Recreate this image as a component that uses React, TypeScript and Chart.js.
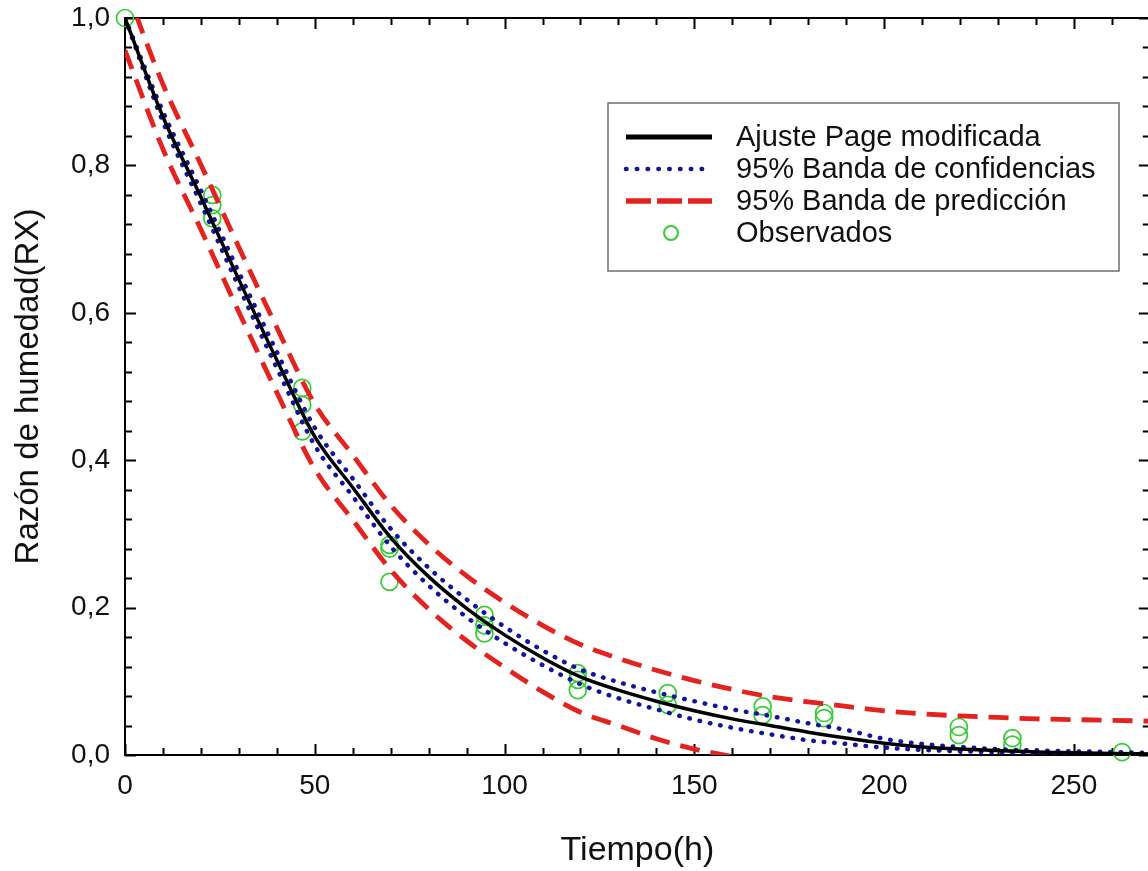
import React, { useEffect, useRef } from "react";
import { Chart, registerables } from "chart.js";

Chart.register(...registerables);

// ---------------- data ----------------
const timeGrid = [0, 10, 20, 30, 40, 50, 60, 70, 80, 90, 100, 110, 120, 130, 140, 150, 160, 170, 180, 190, 200, 210, 220, 230, 240, 250, 260, 270];

const fitValues = [1.0, 0.866, 0.757, 0.645, 0.536, 0.432, 0.363, 0.295, 0.242, 0.199, 0.163, 0.132, 0.106, 0.088, 0.073, 0.06, 0.049, 0.04, 0.031, 0.023, 0.016, 0.011, 0.008, 0.006, 0.004, 0.003, 0.002, 0.0015];

const confUpper = [1.0, 0.873, 0.766, 0.655, 0.547, 0.444, 0.375, 0.307, 0.254, 0.211, 0.174, 0.142, 0.116, 0.099, 0.085, 0.073, 0.062, 0.053, 0.043, 0.034, 0.022, 0.015, 0.011, 0.008, 0.006, 0.005, 0.004, 0.003];

const confLower = [1.0, 0.859, 0.748, 0.635, 0.525, 0.42, 0.351, 0.283, 0.23, 0.187, 0.152, 0.122, 0.096, 0.077, 0.062, 0.048, 0.037, 0.028, 0.02, 0.015, 0.01, 0.007, 0.005, 0.004, 0.002, 0.001, 0.001, 0.0005];

const predUpper = [1.044, 0.91, 0.801, 0.689, 0.58, 0.476, 0.407, 0.339, 0.286, 0.243, 0.207, 0.176, 0.15, 0.131, 0.115, 0.101, 0.089, 0.079, 0.072, 0.066, 0.06, 0.056, 0.053, 0.051, 0.049, 0.048, 0.047, 0.046];

// lower prediction band (drops below the axis after ~160 h)
const predLowerTime = [0, 10, 20, 30, 40, 50, 60, 70, 80, 90, 100, 110, 120, 130, 140, 150, 160, 170];
const predLower = [0.956, 0.822, 0.713, 0.601, 0.492, 0.388, 0.319, 0.251, 0.198, 0.155, 0.119, 0.086, 0.058, 0.04, 0.022, 0.008, -0.002, -0.012];

const obsTime = [0, 23, 23, 23, 46.7, 46.7, 46.7, 69.7, 69.7, 69.7, 94.7, 94.7, 94.7, 119.3, 119.3, 119.3, 143, 143, 168, 168, 184.2, 184.2, 219.7, 219.7, 233.8, 233.8, 262.7];
const obsRatio = [1.0, 0.76, 0.746, 0.728, 0.498, 0.475, 0.439, 0.285, 0.28, 0.235, 0.19, 0.176, 0.165, 0.111, 0.102, 0.088, 0.084, 0.068, 0.066, 0.054, 0.057, 0.05, 0.038, 0.027, 0.023, 0.014, 0.004];

const xTickValues = [0, 50, 100, 150, 200, 250];
const yTickValues = [0, 0.2, 0.4, 0.6, 0.8, 1.0];

const seriesLabels = [
  "Ajuste Page modificada",
  "95% Banda de confidencias",
  "95% Banda de predicción",
  "Observados",
];

const xTitle = "Tiempo(h)";
const yTitle = "Razón de humedad(RX)";

// ---------------- styles ----------------
const FONT = "'Liberation Sans', Arial, Helvetica, sans-serif";
const BLACK = "#000000";
const BLUE = "#13139c";
const RED = "#e2231f";
const GREEN = "#33cc33";

const pts = (xs: number[], ys: number[]) => xs.map((x, i) => ({ x, y: ys[i] }));

const frameTicksPlugin = {
  id: "frameTicks",
  beforeDatasetsDraw(chart: any) {
    const { ctx, chartArea: a } = chart;
    const xs = chart.scales.x;
    const ys = chart.scales.y;
    ctx.save();
    ctx.strokeStyle = "#000";
    ctx.lineWidth = 2;
    ctx.strokeRect(a.left, a.top, a.right - a.left, a.bottom - a.top);
    ctx.beginPath();
    const xMajors = xs.ticks.map((t: any) => t.value);
    for (let i = 0; i <= 27; i++) {
      const v = i * 10;
      const px = Math.round(xs.getPixelForValue(v)) + 0.5;
      const major = xMajors.some((m: number) => Math.abs(m - v) < 1e-6);
      const len = major ? 11 : 7;
      ctx.moveTo(px, a.bottom);
      ctx.lineTo(px, a.bottom - len);
      ctx.moveTo(px, a.top);
      ctx.lineTo(px, a.top + len);
    }
    const yMajors = ys.ticks.map((t: any) => t.value);
    for (let i = 0; i <= 25; i++) {
      const v = i * 0.04;
      const py = Math.round(ys.getPixelForValue(v)) + 0.5;
      const major = yMajors.some((m: number) => Math.abs(m - v) < 1e-6);
      const len = major ? 11 : 7;
      ctx.moveTo(a.left, py);
      ctx.lineTo(a.left + len, py);
      ctx.moveTo(a.right, py);
      ctx.lineTo(a.right - len, py);
    }
    ctx.stroke();
    ctx.restore();
  },
};

const boxLegendPlugin = {
  id: "boxLegend",
  afterDraw(chart: any) {
    const { ctx, chartArea: a } = chart;
    const left = a.left + 483;
    const top = a.top + 85;
    const w = 511;
    const h = 168;
    ctx.save();
    ctx.fillStyle = "#ffffff";
    ctx.fillRect(left, top, w, h);
    ctx.strokeStyle = "#6e6e6e";
    ctx.lineWidth = 1.5;
    ctx.strokeRect(left, top, w, h);

    const sx0 = left + 18;
    const sx1 = left + 104;
    const tx = left + 128;
    const rowY = [top + 34, top + 66, top + 98, top + 130];
    const ds = chart.data.datasets;
    const entries = [ds[0], ds[1], ds[3], ds[5]];
    const sampleWidths = [5, 4.5, 5.5, 2];
    const sampleDash: number[][] = [[], [0.5, 10.3], [25, 6], []];

    entries.forEach((d: any, i: number) => {
      const y = rowY[i];
      ctx.save();
      if (d.showLine === false) {
        ctx.beginPath();
        ctx.strokeStyle = d.pointBorderColor;
        ctx.lineWidth = sampleWidths[i];
        ctx.arc((sx0 + sx1) / 2 + 2, y, 7, 0, Math.PI * 2);
        ctx.stroke();
      } else {
        ctx.beginPath();
        ctx.strokeStyle = d.borderColor;
        ctx.lineWidth = sampleWidths[i];
        ctx.lineCap = d.borderCapStyle || "butt";
        ctx.setLineDash(sampleDash[i]);
        ctx.moveTo(sx0, y);
        ctx.lineTo(sx1, y);
        ctx.stroke();
      }
      ctx.restore();
      ctx.fillStyle = "#111";
      ctx.font = `29px ${FONT}`;
      ctx.textAlign = "left";
      ctx.textBaseline = "middle";
      ctx.fillText(d.label, tx, y + 1);
    });
    ctx.restore();
  },
};

export default function App() {
  const canvasRef = useRef<HTMLCanvasElement | null>(null);

  useEffect(() => {
    const canvas = canvasRef.current;
    if (!canvas) return;

    const lineBase = {
      showLine: true,
      pointRadius: 0,
      pointHoverRadius: 0,
      fill: false,
      cubicInterpolationMode: "monotone" as const,
    };

    const chart = new Chart(canvas, {
      type: "scatter",
      data: {
        datasets: [
          {
            ...lineBase,
            label: seriesLabels[0],
            data: pts(timeGrid, fitValues),
            borderColor: BLACK,
            borderWidth: 3.5,
            order: 0,
          },
          {
            ...lineBase,
            label: seriesLabels[1],
            data: pts(timeGrid, confUpper),
            borderColor: BLUE,
            borderWidth: 4.5,
            borderDash: [0.5, 10],
            borderCapStyle: "round",
            order: 1,
          },
          {
            ...lineBase,
            label: seriesLabels[1],
            data: pts(timeGrid, confLower),
            borderColor: BLUE,
            borderWidth: 4.5,
            borderDash: [0.5, 10],
            borderCapStyle: "round",
            order: 1,
          },
          {
            ...lineBase,
            label: seriesLabels[2],
            data: pts(timeGrid, predUpper),
            borderColor: RED,
            borderWidth: 4.8,
            borderDash: [20, 11],
            order: 2,
          },
          {
            ...lineBase,
            label: seriesLabels[2],
            data: pts(predLowerTime, predLower),
            borderColor: RED,
            borderWidth: 4.8,
            borderDash: [20, 11],
            order: 2,
          },
          {
            label: seriesLabels[3],
            data: pts(obsTime, obsRatio),
            showLine: false,
            clip: false,
            pointStyle: "circle",
            pointRadius: 8.5,
            pointHoverRadius: 8.5,
            pointBorderColor: GREEN,
            pointBackgroundColor: "rgba(0,0,0,0)",
            pointBorderWidth: 1.7,
            borderColor: GREEN,
            backgroundColor: "rgba(0,0,0,0)",
            order: 3,
          },
        ],
      },
      options: {
        animation: false,
        responsive: false,
        maintainAspectRatio: false,
        events: [],
        layout: { padding: { top: 18, right: 9, left: 0, bottom: 0 } },
        plugins: {
          legend: { display: false },
          tooltip: { enabled: false },
          title: { display: false },
        },
        scales: {
          x: {
            type: "linear",
            position: "bottom",
            min: 0,
            max: 270,
            afterFit: (s: any) => {
              s.height = 116;
              s.paddingLeft = 0;
              s.paddingRight = 0;
            },
            afterBuildTicks: (s: any) => {
              s.ticks = xTickValues.map((v) => ({ value: v }));
            },
            ticks: {
              color: "#111",
              font: { family: FONT, size: 28 },
              padding: 14,
              maxRotation: 0,
              callback: (v: any) => String(v),
            },
            grid: { display: false, drawTicks: false },
            border: { display: false },
            title: {
              display: true,
              text: xTitle,
              color: "#111",
              font: { family: FONT, size: 34 },
              padding: { top: 0, bottom: 0 },
            },
          },
          y: {
            type: "linear",
            position: "left",
            min: 0,
            max: 1,
            afterFit: (s: any) => {
              s.width = 125;
              s.paddingTop = 0;
              s.paddingBottom = 0;
            },
            afterBuildTicks: (s: any) => {
              s.ticks = yTickValues.map((v) => ({ value: v }));
            },
            ticks: {
              color: "#111",
              font: { family: FONT, size: 28 },
              padding: 15,
              callback: (v: any) => Number(v).toFixed(1).replace(".", ","),
            },
            grid: { display: false, drawTicks: false },
            border: { display: false },
            title: {
              display: true,
              text: yTitle,
              color: "#111",
              font: { family: FONT, size: 33 },
              padding: { top: 9, bottom: 0 },
            },
          },
        },
      },
      plugins: [frameTicksPlugin, boxLegendPlugin],
    } as any);

    return () => {
      chart.destroy();
    };
  }, []);

  return (
    <div
      style={{
        position: "fixed",
        left: 0,
        top: 0,
        width: 1148,
        height: 871,
        overflow: "hidden",
        background: "#ffffff",
      }}
    >
      <canvas ref={canvasRef} width={1160} height={871} style={{ display: "block", width: 1160, height: 871 }} />
    </div>
  );
}
